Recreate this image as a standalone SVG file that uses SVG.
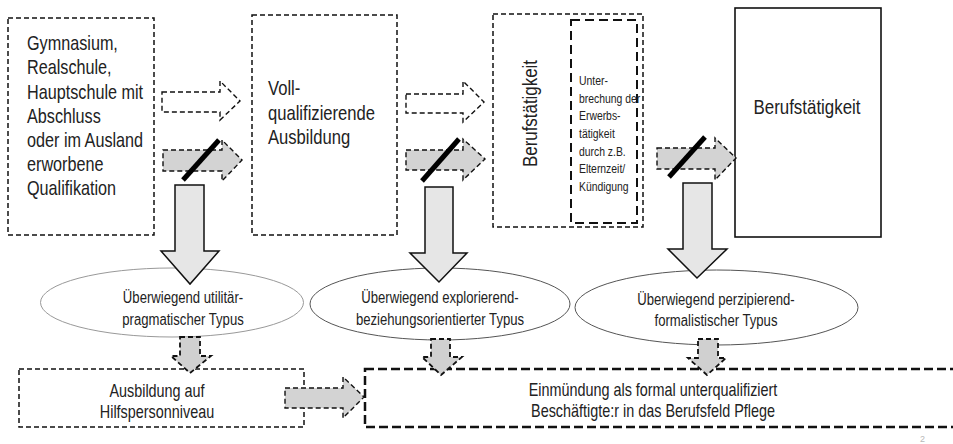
<svg xmlns="http://www.w3.org/2000/svg" width="953" height="444" viewBox="0 0 953 444">
  <style>
    .box { fill: #ffffff; stroke: #111; stroke-width: 1.5; stroke-dasharray: 5 3; }
    .box-solid { fill: #ffffff; stroke: #111; stroke-width: 1.6; }
    .box-inner { fill: none; stroke: #111; stroke-width: 2; stroke-dasharray: 9 5; }
    .box-bold { fill: #ffffff; stroke: #111; stroke-width: 2.5; stroke-dasharray: 9 4; }
    .ell { fill: #ffffff; stroke: #555; stroke-width: 1; }
    .ell-light { fill: #ffffff; stroke: #999; stroke-width: 1; }
    .arr-hollow { fill: #ffffff; stroke: #111; stroke-width: 1.4; stroke-dasharray: 5 3; stroke-linejoin: miter; }
    .arr-gray { fill: #d3d3d3; stroke: #111; stroke-width: 1.4; stroke-dasharray: 5 3; }
    .arr-down { fill: #e6e6e6; stroke: #111; stroke-width: 1.5; stroke-linejoin: miter; }
    .arr-small { fill: #d0d0d0; stroke: #111; stroke-width: 1.8; stroke-dasharray: 5 3; }
    .slash { stroke: #000; stroke-width: 5; stroke-linecap: butt; }
    text { font-family: "Liberation Sans", Arial, sans-serif; fill: #222; }
    .t-big { font-size: 20.5px; }
    .t-mid { font-size: 18px; }
    .t-ell { font-size: 16px; }
    .t-small { font-size: 13.5px; }
    .page { font-size: 9px; fill: #b8b8b8; }
  </style>

  <!-- school leaving certificates -->
  <g id="node-schulabschluss">
    <rect class="box" x="8" y="18" width="146" height="217"/>
    <g transform="translate(27,0) scale(0.79,1)">
      <text class="t-big" x="0" y="50">Gymnasium,</text>
      <text class="t-big" x="0" y="74.5">Realschule,</text>
      <text class="t-big" x="0" y="99">Hauptschule mit</text>
      <text class="t-big" x="0" y="123">Abschluss</text>
      <text class="t-big" x="0" y="147">oder im Ausland</text>
      <text class="t-big" x="0" y="171">erworbene</text>
      <text class="t-big" x="0" y="195">Qualifikation</text>
    </g>
  </g>

  <!-- full vocational training -->
  <g id="node-ausbildung">
    <rect class="box" x="252" y="15" width="145" height="220"/>
    <g transform="translate(268,0) scale(0.81,1)">
      <text class="t-big" x="0" y="95">Voll-</text>
      <text class="t-big" x="0" y="120">qualifizierende</text>
      <text class="t-big" x="0" y="144">Ausbildung</text>
    </g>
  </g>

  <!-- employment with interruption -->
  <g id="node-berufstaetigkeit-unterbrochen">
    <rect class="box" x="493" y="14" width="150" height="213"/>
    <rect class="box-inner" x="571" y="20" width="66" height="203"/>
    <g transform="translate(537,113.5) rotate(-90) scale(0.825,1)">
      <text class="t-big" x="0" y="0" text-anchor="middle">Berufstätigkeit</text>
    </g>
    <g transform="translate(579,0) scale(0.77,1)">
      <text class="t-small" x="0" y="85">Unter-</text>
      <text class="t-small" x="0" y="102.7">brechung der</text>
      <text class="t-small" x="0" y="120.4">Erwerbs-</text>
      <text class="t-small" x="0" y="138">tätigkeit</text>
      <text class="t-small" x="0" y="155.8">durch z.B.</text>
      <text class="t-small" x="0" y="173.5">Elternzeit/</text>
      <text class="t-small" x="0" y="191.2">Kündigung</text>
    </g>
  </g>

  <!-- employment -->
  <g id="node-berufstaetigkeit">
    <rect class="box-solid" x="735" y="8" width="146" height="229"/>
    <g transform="translate(807,0) scale(0.825,1)">
      <text class="t-big" x="0" y="114" text-anchor="middle">Berufstätigkeit</text>
    </g>
  </g>

  <!-- type ellipses -->
  <g id="node-typ-utilitaer">
    <ellipse class="ell-light" cx="172" cy="302.5" rx="131.5" ry="34.5"/>
    <g transform="translate(183,0) scale(0.82,1)">
      <text class="t-ell" x="0" y="303" text-anchor="middle">Überwiegend utilitär-</text>
      <text class="t-ell" x="0" y="325" text-anchor="middle">pragmatischer Typus</text>
    </g>
  </g>

  <g id="node-typ-explorierend">
    <ellipse class="ell" cx="440" cy="304" rx="130" ry="36"/>
    <g transform="translate(440,0) scale(0.82,1)">
      <text class="t-ell" x="0" y="303" text-anchor="middle">Überwiegend explorierend-</text>
      <text class="t-ell" x="0" y="325" text-anchor="middle">beziehungsorientierter Typus</text>
    </g>
  </g>

  <g id="node-typ-perzipierend">
    <ellipse class="ell" cx="716.5" cy="307.5" rx="141.5" ry="37.5"/>
    <g transform="translate(716,0) scale(0.82,1)">
      <text class="t-ell" x="0" y="305" text-anchor="middle">Überwiegend perzipierend-</text>
      <text class="t-ell" x="0" y="326" text-anchor="middle">formalistischer Typus</text>
    </g>
  </g>

  <!-- assistant level training -->
  <g id="node-hilfsperson">
    <rect class="box" x="19" y="369" width="285" height="58"/>
    <g transform="translate(157,0) scale(0.8,1)">
      <text class="t-mid" x="0" y="397" text-anchor="middle">Ausbildung auf</text>
      <text class="t-mid" x="0" y="418" text-anchor="middle">Hilfspersonniveau</text>
    </g>
  </g>

  <!-- entry into nursing -->
  <g id="node-einmuendung">
    <rect class="box-bold" x="365" y="369" width="600" height="58"/>
    <g transform="translate(653,0) scale(0.8,1)">
      <text class="t-mid" x="0" y="396" text-anchor="middle">Einmündung als formal unterqualifiziert</text>
      <text class="t-mid" x="0" y="417" text-anchor="middle">Beschäftigte:r in das Berufsfeld Pflege</text>
    </g>
  </g>

  <g id="connectors">
    <!-- transitions box 1 to box 2 -->
    <path class="arr-hollow" d="M162,92 L220,92 L220,81 L240,101 L220,120 L220,112 L162,112 Z"/>
    <path class="arr-gray" d="M163,150 L222,150 L222,140 L242,160 L222,181 L222,171 L163,171 Z"/>
    <line class="slash" x1="183" y1="180" x2="219" y2="140"/>

    <!-- transitions box 2 to box 3 -->
    <path class="arr-hollow" d="M406,94 L463,94 L463,81 L484,102 L463,122 L463,113 L406,113 Z"/>
    <path class="arr-gray" d="M406,150 L463,150 L463,139 L485,159 L463,180 L463,170 L406,170 Z"/>
    <line class="slash" x1="422" y1="181" x2="459" y2="139"/>

    <!-- transition box 3 to box 4 -->
    <path class="arr-gray" d="M657,148 L715,148 L715,138 L736,158 L715,180 L715,169 L657,169 Z"/>
    <line class="slash" x1="669" y1="177" x2="705" y2="137"/>

    <!-- large downward arrows to the types -->
    <path class="arr-down" d="M175,185 L204,185 L204,251 L219,251 L190,284 L161,251 L175,251 Z"/>
    <path class="arr-down" d="M425,187 L453,187 L453,253 L467,253 L439,282 L410,253 L425,253 Z"/>
    <path class="arr-down" d="M683,183 L712,183 L712,249 L727,249 L697,278 L668,249 L683,249 Z"/>

    <!-- small arrows from the types -->
    <path class="arr-small" d="M180,337 L200,337 L200,356 L211,356 L190,373 L171,356 L180,356 Z"/>
    <path class="arr-small" d="M431,339 L450,339 L450,357 L462,357 L441,375 L422,357 L431,357 Z"/>
    <path class="arr-small" d="M698,339 L718,339 L718,358 L726,358 L707,375 L688,358 L698,358 Z"/>

    <!-- assistant training to entry -->
    <path class="arr-gray" d="M285,388 L343,388 L343,377 L364,397 L343,418 L343,408 L285,408 Z"/>
  </g>

  <text class="page" x="920" y="442">2</text>
</svg>
